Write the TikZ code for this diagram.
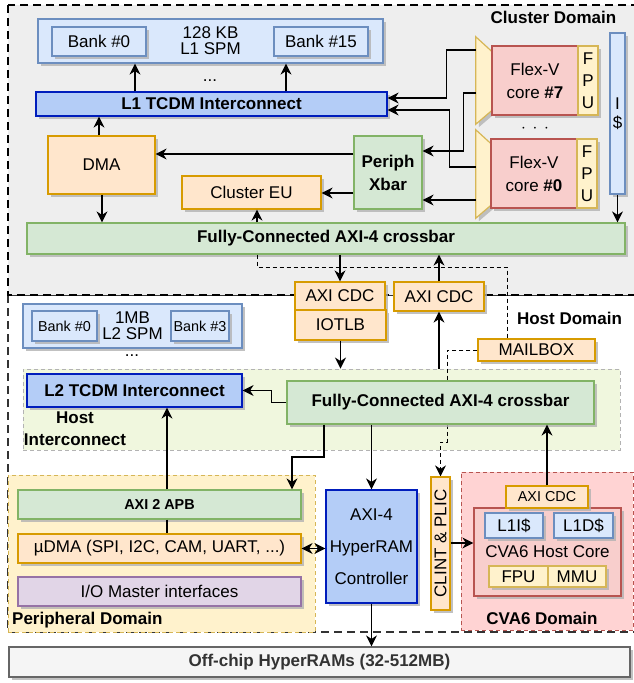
\documentclass[tikz,border=0pt]{standalone}
\usepackage{fontspec}
\setmainfont{Liberation Sans}
\usetikzlibrary{arrows.meta,shadows,calc}

\definecolor{spmfill}{HTML}{DAE8FC}
\definecolor{spmline}{HTML}{6C8EBF}
\definecolor{icfill}{HTML}{B4CDF7}
\definecolor{icline}{HTML}{001DBC}
\definecolor{orfill}{HTML}{FFE6CC}
\definecolor{orline}{HTML}{D79B00}
\definecolor{grfill}{HTML}{D5E8D4}
\definecolor{grline}{HTML}{82B366}
\definecolor{rdfill}{HTML}{F8CECC}
\definecolor{rdline}{HTML}{B85450}
\definecolor{ylfill}{HTML}{FFF2CC}
\definecolor{ylline}{HTML}{D6B656}
\definecolor{ppfill}{HTML}{E1D5E7}
\definecolor{ppline}{HTML}{9673A6}
\definecolor{gyfill}{HTML}{F5F5F5}
\definecolor{gyline}{HTML}{666666}
\definecolor{clfill}{HTML}{EEEEEE}
\definecolor{hifill}{HTML}{F0F7DE}
\definecolor{hiline}{HTML}{B3B3B3}
\definecolor{cvfill}{HTML}{FFD3D3}

\pgfdeclarelayer{domain}
\pgfdeclarelayer{wires}
\pgfsetlayers{domain,wires,main}

\tikzset{
  txt/.style={font=\fontsize{17}{20}\selectfont},
  small/.style={font=\fontsize{14.4}{17}\selectfont},
  bold/.style={font=\bfseries\fontsize{17}{20}\selectfont},
  base/.style={rectangle, draw, line width=1.2pt, inner sep=0pt, align=center, txt,
    drop shadow={shadow xshift=3pt, shadow yshift=-3pt, fill=black!30, opacity=0.8}},
  spmbox/.style={base, fill=spmfill, draw=spmline},
  icbox/.style={base, fill=icfill, draw=icline},
  orbox/.style={base, fill=orfill, draw=orline},
  grbox/.style={base, fill=grfill, draw=grline},
  rdbox/.style={base, fill=rdfill, draw=rdline},
  ylbox/.style={base, fill=ylfill, draw=ylline},
  ppbox/.style={base, fill=ppfill, draw=ppline},
  gybox/.style={base, fill=gyfill, draw=gyline},
  muxbox/.style={rectangle, inner sep=0pt, minimum width=16},
  muxline/.style={fill=ylfill, draw=ylline, line width=1.2pt,
    drop shadow={shadow xshift=3pt, shadow yshift=-3pt, fill=black!30, opacity=0.8}},
  tip/.tip={Stealth[length=11pt, width=11pt, inset=3.5pt]},
  conn/.style={line width=1.3pt, -tip},
  biconn/.style={line width=1.3pt, tip-tip},
  plain/.style={line width=1.3pt},
  dashline/.style={line width=1pt, dash pattern=on 4pt off 3pt},
  domline/.style={line width=2.2pt, dash pattern=on 8pt off 5pt},
  arealine/.style={line width=0.9pt, dash pattern=on 4pt off 3pt},
}

\begin{document}
\begin{tikzpicture}[x=1pt, y=-1pt]
\useasboundingbox (0,0) rectangle (633,683);

% domains
\begin{pgfonlayer}{domain}
  \draw[domline, draw=black!80, fill=white] (8,295) rectangle (638,632);
  \draw[domline, draw=black, fill=clfill] (8,5) rectangle (638,295);
  \node[rectangle, arealine, draw=hiline, fill=hifill, minimum width=597, minimum height=81, inner sep=0pt] (hostic) at (321.5,409.5) {};
  \node[rectangle, arealine, draw=ylline, fill=ylfill, minimum width=307, minimum height=157, inner sep=0pt] (perdom) at (161.5,553.5) {};
  \node[rectangle, arealine, draw=rdline, fill=cvfill, minimum width=172, minimum height=158, inner sep=0pt] (cvadom) at (547,551) {};
\end{pgfonlayer}

\node[bold] (clusterlbl) at (553.5,17) {Cluster Domain};
\node[bold] (hostlbl) at (569.5,318) {Host Domain};
\node[bold, align=center, font=\bfseries\fontsize{17}{22}\selectfont] (hosticlbl) at (75,429) {Host\\Interconnect};
\node[bold, anchor=west, inner sep=0pt] (perlbl) at (12,620) {Peripheral Domain};
\node[bold] (cvalbl) at (542,618) {CVA6 Domain};

% cluster
\node[spmbox, minimum width=345, minimum height=44, font=\fontsize{17}{16}\selectfont] (l1spm) at (210.5,41) {128 KB\\L1 SPM};
\node[spmbox, minimum width=94, minimum height=29] (bank0) at (99,41.5) {Bank \#0};
\node[spmbox, minimum width=94, minimum height=29] (bank15) at (321,41.5) {Bank \#15};
\node[txt] (dotsA) at (210,81) {...};
\node[icbox, bold, minimum width=351, minimum height=24] (l1tcdm) at (211.5,104) {L1 TCDM Interconnect};
\node[orbox, minimum width=107, minimum height=58] (dma) at (101.5,165) {DMA};
\node[orbox, minimum width=139, minimum height=33] (cEU) at (251.5,192.5) {Cluster EU};
\node[grbox, bold, minimum width=68, minimum height=73, font=\bfseries\fontsize{17}{23}\selectfont] (periph) at (388,172.5) {Periph\\Xbar};
\node[grbox, bold, minimum width=598, minimum height=31] (cxbar) at (326,238.5) {Fully-Connected AXI-4 crossbar};

\node[muxbox, minimum height=87] (mux7) at (484,80.5) {};
\node[muxbox, minimum height=88] (mux0) at (484,174) {};
\draw[muxline] (mux7.north west) -- ($(mux7.north east)+(0,15)$) -- ($(mux7.south east)+(0,-14)$) -- (mux7.south west) -- cycle;
\draw[muxline] (mux0.north west) -- ($(mux0.north east)+(0,15)$) -- ($(mux0.south east)+(0,-14)$) -- (mux0.south west) -- cycle;
\node[rdbox, minimum width=86, minimum height=69, font=\fontsize{17}{23}\selectfont] (core7) at (535,80.5) {Flex-V\\core \textbf{\#7}};
\node[ylbox, minimum width=20, minimum height=69, font=\fontsize{17}{22}\selectfont] (fpu7) at (588,80.5) {F\\P\\U};
\node[txt] (dotsB) at (535,129) {$\cdot\,\cdot\,\cdot$};
\node[rdbox, minimum width=86, minimum height=69, font=\fontsize{17}{23}\selectfont] (core0) at (534,173.5) {Flex-V\\core \textbf{\#0}};
\node[ylbox, minimum width=20, minimum height=69, font=\fontsize{17}{22}\selectfont] (fpu0) at (587,173.5) {F\\P\\U};
\node[spmbox, minimum width=15, minimum height=161, font=\fontsize{17}{19}\selectfont] (icache) at (617.5,113.5) {I\\\$};

% clock domain crossing
\node[orbox, minimum width=90, minimum height=28] (cdcA) at (340,296) {AXI CDC};
\node[orbox, minimum width=91, minimum height=30] (iotlb) at (340.5,325) {IOTLB};
\node[orbox, minimum width=90, minimum height=29] (cdcB) at (439,296.5) {AXI CDC};
\node[orbox, minimum width=117, minimum height=22] (mailbox) at (536.5,350) {MAILBOX};

% host
\node[spmbox, minimum width=219, minimum height=44, font=\fontsize{17}{16}\selectfont] (l2spm) at (132.5,326) {1MB\\L2 SPM};
\node[spmbox, small, minimum width=65, minimum height=30] (l2bank0) at (64.5,326) {Bank \#0};
\node[spmbox, small, minimum width=58, minimum height=30] (l2bank3) at (200,326) {Bank \#3};
\node[txt] (dotsC) at (132,356) {...};
\node[icbox, bold, minimum width=215, minimum height=33] (l2tcdm) at (134.5,390.5) {L2 TCDM Interconnect};
\node[grbox, bold, minimum width=307, minimum height=43] (hxbar) at (440.5,402.5) {Fully-Connected AXI-4 crossbar};

% peripherals
\node[grbox, font=\bfseries\fontsize{14.4}{17}\selectfont, minimum width=283, minimum height=29] (apb) at (159.5,504.5) {AXI 2 APB};
\node[orbox, minimum width=283, minimum height=29] (udma) at (159.5,548.5) {µDMA (SPI, I2C, CAM, UART, ...)};
\node[ppbox, minimum width=283, minimum height=29] (iom) at (159.5,591.5) {I/O Master interfaces};
\node[icbox, minimum width=91, minimum height=113, font=\fontsize{17}{32}\selectfont] (hyper) at (371.5,546.5) {AXI-4\\HyperRAM\\Controller};
\node[orbox, minimum width=19, minimum height=133] (clint) at (440.5,543.5) {\rotatebox{90}{CLINT \& PLIC}};

% cva6
\node[rdbox, minimum width=147, minimum height=88] (cva6) at (547.5,552) {CVA6 Host Core};
\node[orbox, small, minimum width=82, minimum height=22] (cdcC) at (547,497) {AXI CDC};
\node[spmbox, minimum width=58, minimum height=25] (l1i) at (514,525.5) {L1I\$};
\node[spmbox, minimum width=59, minimum height=25] (l1d) at (583.5,525.5) {L1D\$};
\node[ylbox, minimum width=59, minimum height=21] (fpuH) at (518.5,576.5) {FPU};
\node[ylbox, minimum width=58, minimum height=21] (mmu) at (577,576.5) {MMU};

\node[gybox, bold, text=black!80, minimum width=621, minimum height=30] (offchip) at (319.5,662) {Off-chip HyperRAMs (32-512MB)};

% connectors
\draw[conn] (135,0 |- l1tcdm.north) -- (135,0 |- l1spm.south);
\draw[conn] (286,0 |- l1tcdm.north) -- (286,0 |- l1spm.south);
\draw[conn] (99,0 |- dma.north) -- (99,0 |- l1tcdm.south);
\draw[conn] (102,0 |- dma.south) -- (102,0 |- cxbar.north);
\draw[conn] (257,0 |- cxbar.north) -- (257,0 |- cEU.south);
\draw[conn] (periph.west |- 0,154) -- (dma.east |- 0,154);
\draw[conn] (periph.west |- 0,193) -- (cEU.east |- 0,193);
\draw[conn] (mux7.west |- 0,50) -- ++(-29,0) |- (l1tcdm.east |- 0,98);
\draw[conn] (mux7.west |- 0,93) -- ++(-12,0) |- (periph.east |- 0,151);
\draw[conn] (mux0.west |- 0,167) -- ++(-26,0) |- (l1tcdm.east |- 0,110);
\draw[conn] (mux0.west |- 0,200) -- (periph.east |- 0,200);
\draw[conn] (icache.south) -- (icache.south |- cxbar.north);
\draw[conn] (cdcA.north |- cxbar.south) -- (cdcA.north);
\draw[conn] (cdcB.north) -- (cdcB.north |- cxbar.south);
\draw[dashline] (257,0 |- cxbar.south) |- (507,267) -- (507,0 |- mailbox.north);
\draw[conn] (iotlb.south) -- (iotlb.south |- hostic.north);
\draw[conn] (cdcB.south |- hostic.north) -- (cdcB.south);
\begin{pgfonlayer}{wires}
  \draw[dashline, -tip] (mailbox.west) -| (447,442) -| (clint.north);
\end{pgfonlayer}
\draw[conn] (hxbar.west) -- ++(-15,0) |- (l2tcdm.east);
\draw[conn] (167,0 |- apb.north) -- (167,0 |- l2tcdm.south);
\draw[plain] (167,0 |- apb.south) -- (167,0 |- udma.north);
\draw[conn] (324,0 |- hxbar.south) -- (324,457) -| (292,0 |- apb.north);
\draw[conn] (hyper.north |- hxbar.south) -- (hyper.north);
\draw[conn] (cdcC.north) -- (cdcC.north |- hxbar.south);
\draw[biconn] (udma.east) -- (hyper.west |- udma.east);
\draw[conn] (clint.east |- 0,543) -- (cva6.west |- 0,543);
\draw[conn] (hyper.south) -- (hyper.south |- offchip.north);
\end{tikzpicture}
\end{document}
